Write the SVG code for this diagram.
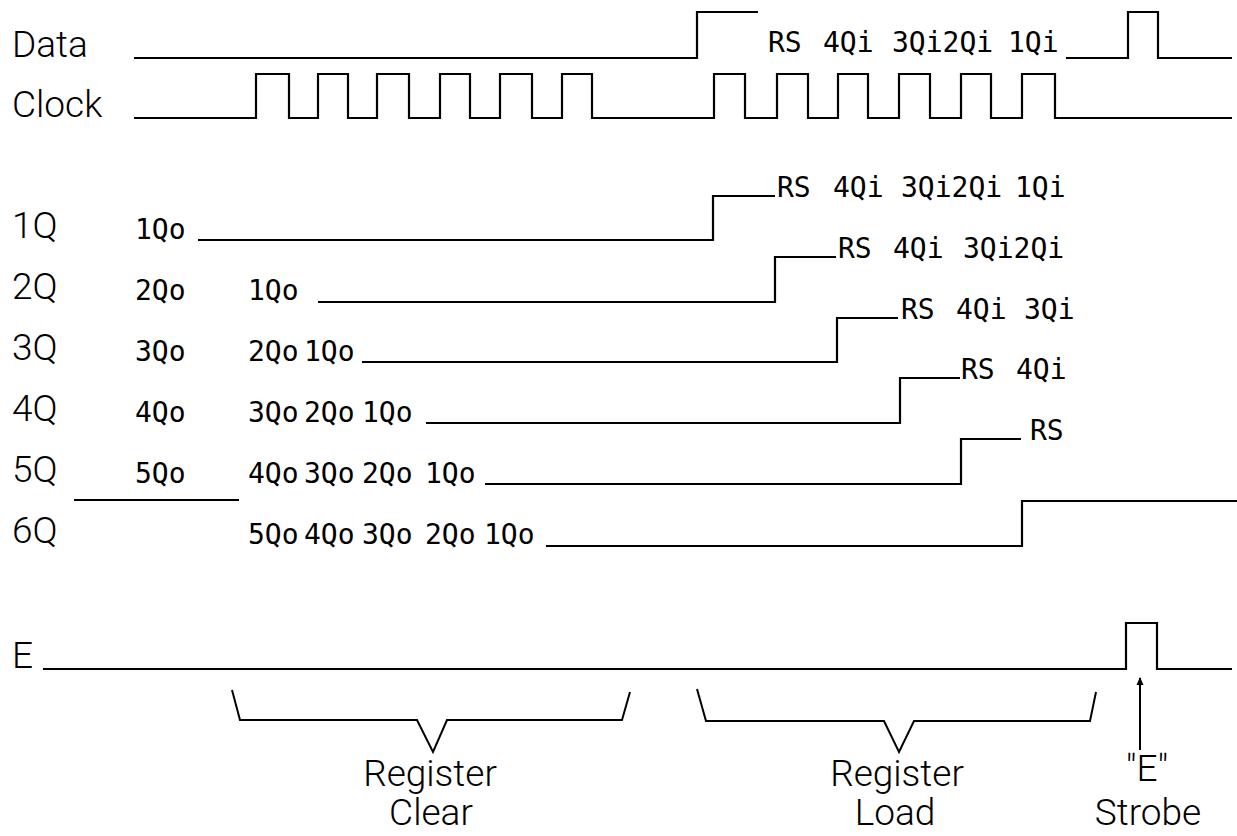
<svg xmlns="http://www.w3.org/2000/svg" width="1237" height="836" viewBox="0 0 1237 836">
<style>
.bg{fill:#fff}
.sig{fill:none;stroke:#000;stroke-width:2.2;stroke-linejoin:miter;stroke-linecap:butt}
.br{fill:none;stroke:#000;stroke-width:2;stroke-linejoin:miter}
.big{font-family:Roboto,"Liberation Sans",sans-serif;font-weight:300;font-size:37px;fill:#000}
.mono{font-family:"DejaVu Sans Mono","Liberation Mono",monospace;font-size:28px;fill:#000}
.mid{text-anchor:middle}
</style>
<defs>
<marker id="ah" markerWidth="8" markerHeight="8" refX="7" refY="4" orient="auto" markerUnits="userSpaceOnUse">
<path d="M0,0.5 L8,4 L0,7.5 Z" fill="#000"/>
</marker>
</defs>
<rect class="bg" x="0" y="0" width="1237" height="836"/>

<g id="data">
<text class="big" x="12" y="57">Data</text>
<path class="sig" d="M134,58 H697 V12 H758"/>
<text class="mono" y="52"><tspan x="768">RS</tspan><tspan x="823">4Qi</tspan><tspan x="892">3Qi2Qi</tspan><tspan x="1008">1Qi</tspan></text>
<path class="sig" d="M1066,58 H1128 V12 H1158 V58 H1232"/>
</g>

<g id="clock">
<text class="big" x="12" y="117">Clock</text>
<path class="sig" d="M134,118 H256 V74 H289 V118 H318 V74 H348 V118 H377 V74 H409 V118 H440 V74 H470 V118 H500 V74 H532 V118 H562 V74 H592 V118 H714 V74 H745 V118 H777 V74 H808 V118 H838 V74 H868 V118 H899 V74 H930 V118 H961 V74 H991 V118 H1022 V74 H1055 V118 H1232"/>
</g>

<g id="q1">
<text class="big" x="12" y="238">1Q</text>
<text class="mono" y="239"><tspan x="135">1Qo</tspan></text>
<path class="sig" d="M198,240 H713 V196 H775"/>
<text class="mono" y="197"><tspan x="777">RS</tspan><tspan x="833">4Qi</tspan><tspan x="901">3Qi2Qi</tspan><tspan x="1015">1Qi</tspan></text>
</g>

<g id="q2">
<text class="big" x="12" y="299">2Q</text>
<text class="mono" y="300"><tspan x="135">2Qo</tspan><tspan x="248">1Qo</tspan></text>
<path class="sig" d="M318,302 H775 V257 H836"/>
<text class="mono" y="258"><tspan x="838">RS</tspan><tspan x="893">4Qi</tspan><tspan x="963">3Qi2Qi</tspan></text>
</g>

<g id="q3">
<text class="big" x="12" y="360">3Q</text>
<text class="mono" y="361"><tspan x="135">3Qo</tspan><tspan x="248">2Qo</tspan><tspan x="304">1Qo</tspan></text>
<path class="sig" d="M362,362 H837 V318 H898"/>
<text class="mono" y="319"><tspan x="901">RS</tspan><tspan x="956">4Qi</tspan><tspan x="1024">3Qi</tspan></text>
</g>

<g id="q4">
<text class="big" x="12" y="421">4Q</text>
<text class="mono" y="422"><tspan x="135">4Qo</tspan><tspan x="248">3Qo</tspan><tspan x="304">2Qo</tspan><tspan x="362">1Qo</tspan></text>
<path class="sig" d="M426,423 H900 V378 H960"/>
<text class="mono" y="379"><tspan x="961">RS</tspan><tspan x="1016">4Qi</tspan></text>
</g>

<g id="q5">
<text class="big" x="12" y="482">5Q</text>
<text class="mono" y="483"><tspan x="135">5Qo</tspan><tspan x="248">4Qo</tspan><tspan x="304">3Qo</tspan><tspan x="362">2Qo</tspan><tspan x="425">1Qo</tspan></text>
<path class="sig" d="M485,484 H961 V439 H1021"/>
<text class="mono" y="440"><tspan x="1030">RS</tspan></text>
<path class="sig" d="M74,500 H239"/>
</g>

<g id="q6">
<text class="big" x="12" y="543">6Q</text>
<text class="mono" y="544"><tspan x="248">5Qo</tspan><tspan x="304">4Qo</tspan><tspan x="362">3Qo</tspan><tspan x="425">2Qo</tspan><tspan x="484">1Qo</tspan></text>
<path class="sig" d="M546,546 H1022 V501 H1237"/>
</g>

<g id="e">
<text class="big" x="12" y="668">E</text>
<path class="sig" d="M43,669 H1126 V623 H1157 V669 H1232"/>
</g>

<g id="connectors">
<path class="br" d="M232,690 L240,720 H417 L433,752 L447,720 H622 L630,692"/>
<path class="br" d="M697,689 L706,721 H884 L899,752 L914,721 H1090 L1096,692"/>
<line class="br" x1="1140" y1="750" x2="1140" y2="678" marker-end="url(#ah)"/>
</g>

<g id="register-clear">
<text class="big mid" x="430" y="786">Register</text>
<text class="big mid" x="431" y="825">Clear</text>
</g>
<g id="register-load">
<text class="big mid" x="897" y="786">Register</text>
<text class="big mid" x="895" y="825">Load</text>
</g>
<g id="e-strobe">
<text class="big mid" x="1147" y="781">"E"</text>
<text class="big mid" x="1148" y="825">Strobe</text>
</g>
</svg>
